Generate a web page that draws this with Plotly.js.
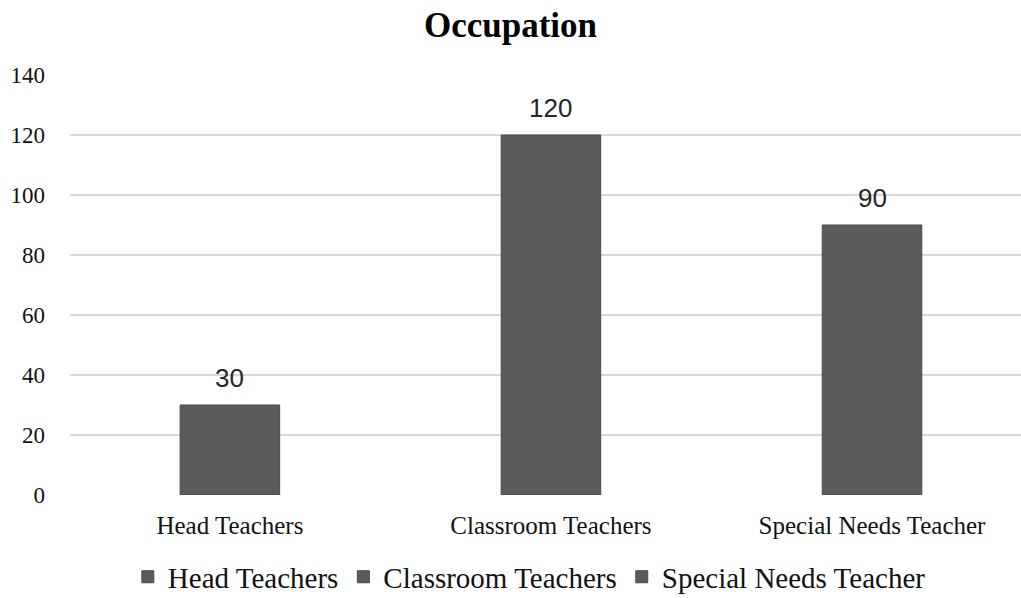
<!DOCTYPE html>
<html>
<head>
<meta charset="utf-8">
<script src="https://cdn.plot.ly/plotly-3.0.1.min.js"></script>
<style>html,body{margin:0;padding:0;background:#fff;}#chart{width:1021px;height:598px;}</style>
</head>
<body>
<div id="chart"></div>
<script>
const categories = ["Head Teachers", "Classroom Teachers", "Special Needs Teacher"];
const values = [30, 120, 90];
const yTicks = [0, 20, 40, 60, 80, 100, 120, 140];

const barColor = "#5b5b5b";
const serif = "Liberation Serif, Times New Roman, serif";

const traces = categories.map((c, i) => ({
  type: "bar",
  name: c,
  x: [c],
  y: [values[i]],
  width: 0.31,
  marker: {color: barColor, line: {color: "#4a4a4a", width: 1}},
  hoverinfo: "x+y"
}));

const annotations = categories.map((c, i) => ({
  x: c, y: values[i], xref: "x", yref: "y",
  text: String(values[i]),
  showarrow: false, yanchor: "bottom", yshift: 10,
  font: {family: "Liberation Sans, Arial, sans-serif", size: 26, color: "#262626"}
}));

const layout = {
  width: 1021, height: 598,
  margin: {l: 70, r: 0, t: 75, b: 103, autoexpand: false},
  paper_bgcolor: "#fff", plot_bgcolor: "#fff",
  title: {text: "<b>Occupation</b>", x: 0.5, xref: "container", y: 0.958, yanchor: "middle",
          font: {family: serif, size: 35, color: "#000"}},
  barmode: "overlay",
  xaxis: {type: "category", range: [-0.498, 2.464], showgrid: false, zeroline: false, showline: false,
          ticks: "", ticklabelstandoff: 13, tickfont: {family: serif, size: 25, color: "#111"}},
  yaxis: {range: [0, 140], tickvals: yTicks, showgrid: true, gridcolor: "#d9d9d9", gridwidth: 2,
          zeroline: false, showline: false, ticks: "", ticklabelstandoff: 24,
          tickfont: {family: serif, size: 23, color: "#111"}},
  showlegend: true,
  legend: {orientation: "h", x: 0.483, xanchor: "center", y: -0.195, yanchor: "middle",
           itemwidth: 30,
           font: {family: serif, size: 29, color: "#111"}, itemclick: false, itemdoubleclick: false},
  annotations: annotations
};

Plotly.newPlot("chart", traces, layout, {displayModeBar: false, staticPlot: true});
</script>
</body>
</html>
